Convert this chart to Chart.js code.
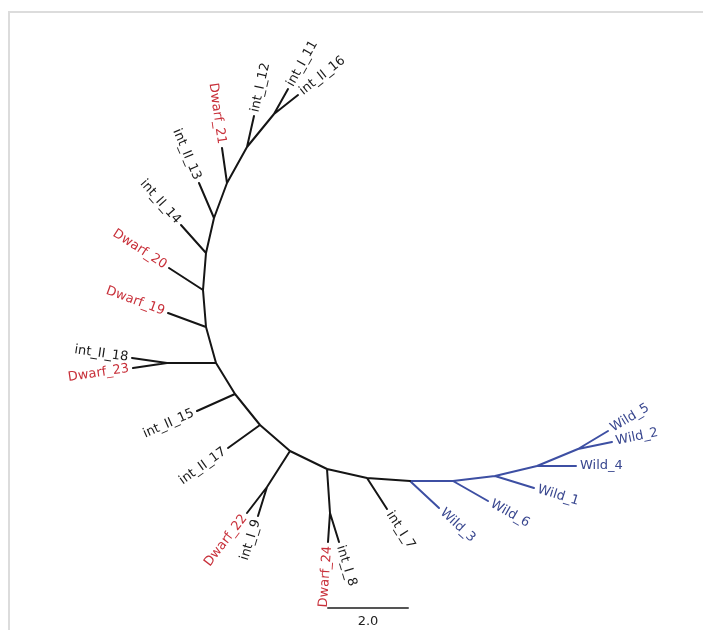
<!DOCTYPE html>
<html>
<head>
<meta charset="utf-8">
<script src="https://cdn.jsdelivr.net/npm/chart.js@4.4.1/dist/chart.umd.min.js"></script>
<style>
  html, body { margin: 0; padding: 0; background: #ffffff; }
  #wrap { position: relative; width: 703px; height: 630px; }
  #frame { position: absolute; left: 8px; top: 11px; right: 0; bottom: 0;
           border-top: 2px solid #dcdcdc; border-left: 2px solid #dcdcdc; }
  canvas { position: absolute; left: 0; top: 0; }
</style>
</head>
<body>
<div id="wrap">
  <div id="frame"></div>
  <canvas id="tree" width="703" height="630"></canvas>
</div>
<script>
// Unrooted tree layout, in branch-length units (scale bar = 2.0 units).
// Internal nodes: backbone 0..17, then three cherries (18, 19, 20).
const innerX = [6.85, 6.175, 5.675, 5.35, 5.15, 5.075, 5.15, 5.4, 5.875, 6.5, 7.25, 8.175, 9.175, 10.25, 11.325, 12.375, 13.425, 14.45, 4.175, 6.675, 8.25];
const innerY = [12.9, 12.075, 11.175, 10.3, 9.425, 8.5, 7.575, 6.675, 5.9, 5.125, 4.475, 4.025, 3.8, 3.725, 3.725, 3.85, 4.1, 4.525, 6.675, 3.575, 2.925];
const innerParent = [-1, 0, 1, 2, 3, 4, 5, 6, 7, 8, 9, 10, 11, 12, 13, 14, 15, 16, 7, 10, 11];
const innerGroup = ['int','int','int','int','int','int','int','int','int','int','int','int','int','int','wild','wild','wild','wild','int','int','int'];

// Leaves
const tipLabels = ['int_I_11', 'int_II_16', 'int_I_12', 'Dwarf_21', 'int_II_13', 'int_II_14', 'Dwarf_20', 'Dwarf_19',
                   'int_II_18', 'Dwarf_23', 'int_II_15', 'int_II_17', 'Dwarf_22', 'int_I_9', 'Dwarf_24', 'int_I_8',
                   'int_I_7', 'Wild_3', 'Wild_6', 'Wild_1', 'Wild_4', 'Wild_5', 'Wild_2'];
const tipX = [7.2, 7.45, 6.35, 5.55, 4.975, 4.525, 4.225, 4.2, 3.3, 3.325, 4.925, 5.7, 6.175, 6.45, 8.2, 8.475, 9.675, 10.975, 12.2, 13.35, 14.4, 15.2, 15.3];
const tipY = [13.525, 13.375, 12.85, 12.05, 11.175, 10.125, 9.05, 7.925, 6.8, 6.55, 5.475, 4.55, 2.925, 2.85, 2.2, 2.2, 3.025, 3.05, 3.225, 3.55, 4.1, 4.975, 4.7];
const tipParent = [0, 0, 1, 2, 3, 4, 5, 6, 18, 18, 8, 9, 19, 19, 20, 20, 12, 13, 14, 15, 16, 17, 17];
const tipGroup = ['int','int','int','dwarf','int','int','dwarf','dwarf','int','dwarf','int','int','dwarf','int','dwarf','int','int','wild','wild','wild','wild','wild','wild'];

// Scale bar
const scaleBarLength = 2.0;
const scaleBarLabel = '2.0';
const scaleBarOrigin = [8.2, 0.55];

const branchColor = { int: '#151515', dwarf: '#151515', wild: '#3d4fa3' };
const labelColor = { int: '#1a1a1a', dwarf: '#c8303a', wild: '#39478f' };

// Branch segments, split by colour, separated by gaps
function segments(group) {
  const pts = [];
  const gap = { x: null, y: null };
  innerParent.forEach((p, i) => {
    if (p < 0) return;
    const g = innerGroup[i] === 'wild' ? 'wild' : 'int';
    if (g !== group) return;
    pts.push({ x: innerX[p], y: innerY[p] }, { x: innerX[i], y: innerY[i] }, gap);
  });
  tipParent.forEach((p, i) => {
    const g = tipGroup[i] === 'wild' ? 'wild' : 'int';
    if (g !== group) return;
    pts.push({ x: innerX[p], y: innerY[p] }, { x: tipX[i], y: tipY[i] }, gap);
  });
  return pts;
}

const tipLabelPlugin = {
  id: 'tipLabels',
  afterDatasetsDraw(chart) {
    const { ctx, scales: { x, y } } = chart;
    ctx.save();
    ctx.font = '13px "DejaVu Sans", sans-serif';
    ctx.textBaseline = 'middle';
    tipLabels.forEach((label, i) => {
      const p = tipParent[i];
      const x0 = x.getPixelForValue(innerX[p]), y0 = y.getPixelForValue(innerY[p]);
      const x1 = x.getPixelForValue(tipX[i]), y1 = y.getPixelForValue(tipY[i]);
      let a = Math.atan2(y1 - y0, x1 - x0);
      const left = Math.cos(a) < 0;
      ctx.save();
      ctx.translate(x1 + 4 * Math.cos(a), y1 + 4 * Math.sin(a));
      ctx.rotate(left ? a + Math.PI : a);
      ctx.textAlign = left ? 'right' : 'left';
      ctx.fillStyle = labelColor[tipGroup[i]];
      ctx.fillText(label, 0, 0);
      ctx.restore();
    });
    // scale bar caption
    const cx = x.getPixelForValue(scaleBarOrigin[0] + scaleBarLength / 2);
    const cy = y.getPixelForValue(scaleBarOrigin[1]);
    ctx.fillStyle = '#222222';
    ctx.textAlign = 'center';
    ctx.fillText(scaleBarLabel, cx, cy + 14);
    ctx.restore();
  }
};

new Chart(document.getElementById('tree'), {
  type: 'line',
  data: {
    datasets: [
      { data: segments('int'), borderColor: branchColor.int, borderWidth: 2 },
      { data: segments('wild'), borderColor: branchColor.wild, borderWidth: 2 },
      { data: [{ x: scaleBarOrigin[0], y: scaleBarOrigin[1] }, { x: scaleBarOrigin[0] + scaleBarLength, y: scaleBarOrigin[1] }],
        borderColor: '#555555', borderWidth: 2 }
    ]
  },
  options: {
    responsive: false,
    animation: false,
    spanGaps: false,
    layout: { padding: 0 },
    elements: {
      point: { radius: 0, hoverRadius: 0 },
      line: { tension: 0, borderCapStyle: 'round', borderJoinStyle: 'round', fill: false }
    },
    scales: {
      x: { type: 'linear', min: 0, max: 17.575, display: false },
      y: { type: 'linear', min: 0, max: 15.75, display: false }
    },
    plugins: { legend: { display: false }, tooltip: { enabled: false } }
  },
  plugins: [tipLabelPlugin]
});
</script>
</body>
</html>
